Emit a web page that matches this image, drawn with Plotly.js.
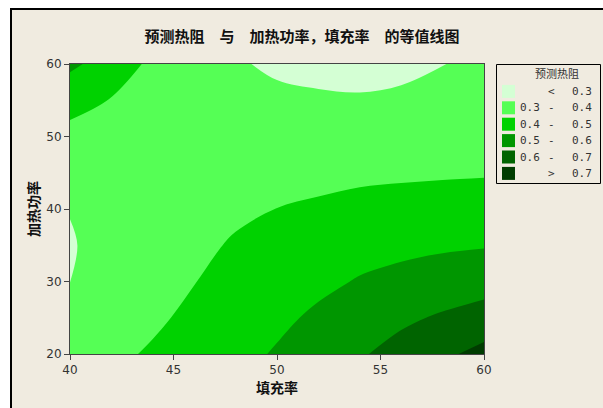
<!DOCTYPE html>
<html>
<head>
<meta charset="utf-8">
<script src="https://cdn.plot.ly/plotly-3.0.1.min.js"></script>
<style>html,body{margin:0;padding:0;background:#fff;}#chart{width:603px;height:408px;}</style>
</head>
<body>
<div id="chart"></div>
<script>
// 填充率 (x) grid
var fillRate = [40, 42, 44, 46, 48, 50, 52, 54, 56, 58, 60];
// 加热功率 (y) grid
var heatPower = [20, 25, 30, 35, 40, 45, 50, 55, 60];
// 预测热阻 values (rows = heatPower, cols = fillRate)
var resistance = [
  [0.355, 0.382, 0.410, 0.442, 0.474, 0.508, 0.549, 0.590, 0.635, 0.681, 0.730],
  [0.319, 0.352, 0.386, 0.418, 0.450, 0.482, 0.515, 0.548, 0.582, 0.612, 0.640],
  [0.2995, 0.332, 0.365, 0.398, 0.426, 0.453, 0.481, 0.506, 0.524, 0.543, 0.561],
  [0.295, 0.323, 0.350, 0.378, 0.410, 0.435, 0.455, 0.470, 0.480, 0.488, 0.494],
  [0.302, 0.324, 0.343, 0.362, 0.383, 0.401, 0.411, 0.418, 0.425, 0.432, 0.438],
  [0.332, 0.338, 0.345, 0.352, 0.361, 0.369, 0.379, 0.388, 0.390, 0.392, 0.394],
  [0.373, 0.360, 0.350, 0.343, 0.338, 0.335, 0.333, 0.333, 0.338, 0.347, 0.361],
  [0.432, 0.396, 0.370, 0.345, 0.330, 0.320, 0.3135, 0.309, 0.317, 0.328, 0.338],
  [0.520, 0.455, 0.380, 0.348, 0.310, 0.284, 0.270, 0.267, 0.276, 0.297, 0.330]
];
var levelStart = 0.3, levelEnd = 0.7, levelStep = 0.1;
var levelColors = ['#d4ffd4', '#55ff55', '#00d200', '#009600', '#006400', '#003c00'];
var legendLow  = ['', '0.3', '0.4', '0.5', '0.6', ''];
var legendSym  = ['<', '-', '-', '-', '-', '>'];
var legendHigh = ['0.3', '0.4', '0.5', '0.6', '0.7', '0.7'];
var xTicks = [40, 45, 50, 55, 60];
var yTicks = [20, 30, 40, 50, 60];

var W = 603, H = 408, ML = 70, MR = 119, MT = 64, MB = 54;
var PW = W - ML - MR, PH = H - MT - MB;
function px(x) { return (x - ML) / PW; }
function py(y) { return (H - MB - y) / PH; }

// stepped colorscale: band centres sit at 0,0.2,...,1 of the contour colour domain
var cs = [];
var n = levelColors.length;
for (var i = 0; i < n; i++) {
  var a = i === 0 ? 0 : (i - 0.5) / (n - 1);
  var b = i === n - 1 ? 1 : (i + 0.5) / (n - 1);
  cs.push([a, levelColors[i]]);
  cs.push([b, levelColors[i]]);
}

var trace = {
  type: 'contour',
  x: fillRate, y: heatPower, z: resistance,
  autocontour: false,
  contours: { start: levelStart, end: levelEnd, size: levelStep, coloring: 'fill', showlines: false },
  line: { width: 0, smoothing: 1 },
  colorscale: cs,
  showscale: false,
  hoverinfo: 'skip'
};

var cjk = '"Noto Sans CJK SC", sans-serif';
var tickFont = { family: '"DejaVu Sans", sans-serif', size: 12, color: '#333' };
var mono = '"DejaVu Sans Mono", monospace';

var shapes = [
  { type: 'rect', xref: 'paper', yref: 'paper', layer: 'below',
    x0: px(11), x1: px(640), y0: py(440), y1: py(9),
    fillcolor: '#f0ebe0', line: { color: '#000', width: 2 } },
  { type: 'rect', xref: 'paper', yref: 'paper', layer: 'above',
    x0: px(496.5), x1: px(600.5), y0: py(183.5), y1: py(64.5),
    fillcolor: 'rgba(0,0,0,0)', line: { color: '#000', width: 1 } }
];
var annotations = [
  { text: '预测热阻', xref: 'paper', yref: 'paper', x: px(557), y: py(73), xanchor: 'center', yanchor: 'middle',
    showarrow: false, font: { family: cjk, size: 11, color: '#333' } }
];
var rowY0 = 91.4, rowDY = 16.4;
for (var k = 0; k < n; k++) {
  var cy = rowY0 + k * rowDY;
  shapes.push({ type: 'rect', xref: 'paper', yref: 'paper', layer: 'above',
    x0: px(502), x1: px(515), y0: py(cy + 6.5), y1: py(cy - 6.5),
    fillcolor: levelColors[k], line: { width: 0 } });
  if (legendLow[k]) annotations.push({ text: legendLow[k], xref: 'paper', yref: 'paper', x: px(518), y: py(cy),
    xanchor: 'left', yanchor: 'middle', showarrow: false, font: { family: mono, size: 11, color: '#333' } });
  annotations.push({ text: legendSym[k], xref: 'paper', yref: 'paper', x: px(551), y: py(cy),
    xanchor: 'center', yanchor: 'middle', showarrow: false, font: { family: mono, size: 11, color: '#333' } });
  annotations.push({ text: legendHigh[k], xref: 'paper', yref: 'paper', x: px(570), y: py(cy),
    xanchor: 'left', yanchor: 'middle', showarrow: false, font: { family: mono, size: 11, color: '#333' } });
}

var layout = {
  width: W, height: H,
  margin: { l: ML, r: MR, t: MT, b: MB, pad: 0 },
  paper_bgcolor: '#ffffff',
  plot_bgcolor: '#f0ebe0',
  showlegend: false,
  title: { text: '<b>预测热阻　与　加热功率，填充率　的等值线图</b>', x: 302 / W, xanchor: 'center', y: 1 - 37 / H, yanchor: 'middle',
    font: { family: cjk, size: 15, color: '#111' } },
  xaxis: { range: [40, 60], tickvals: xTicks, ticks: 'outside', ticklen: 5, tickcolor: '#444', tickwidth: 1,
    showline: true, linecolor: '#444', linewidth: 1, mirror: true, showgrid: false, zeroline: false,
    tickfont: tickFont,
    title: { text: '<b>填充率</b>', font: { family: cjk, size: 14, color: '#111' }, standoff: 6 } },
  yaxis: { range: [20, 60], tickvals: yTicks, ticks: 'outside', ticklen: 5, tickcolor: '#444', tickwidth: 1,
    showline: true, linecolor: '#444', linewidth: 1, mirror: true, showgrid: false, zeroline: false,
    tickfont: tickFont,
    title: { text: '<b>加热功率</b>', font: { family: cjk, size: 14, color: '#111' }, standoff: 3 } },
  shapes: shapes,
  annotations: annotations
};

Plotly.newPlot('chart', [trace], layout, { staticPlot: true, displayModeBar: false });
</script>
</body>
</html>
